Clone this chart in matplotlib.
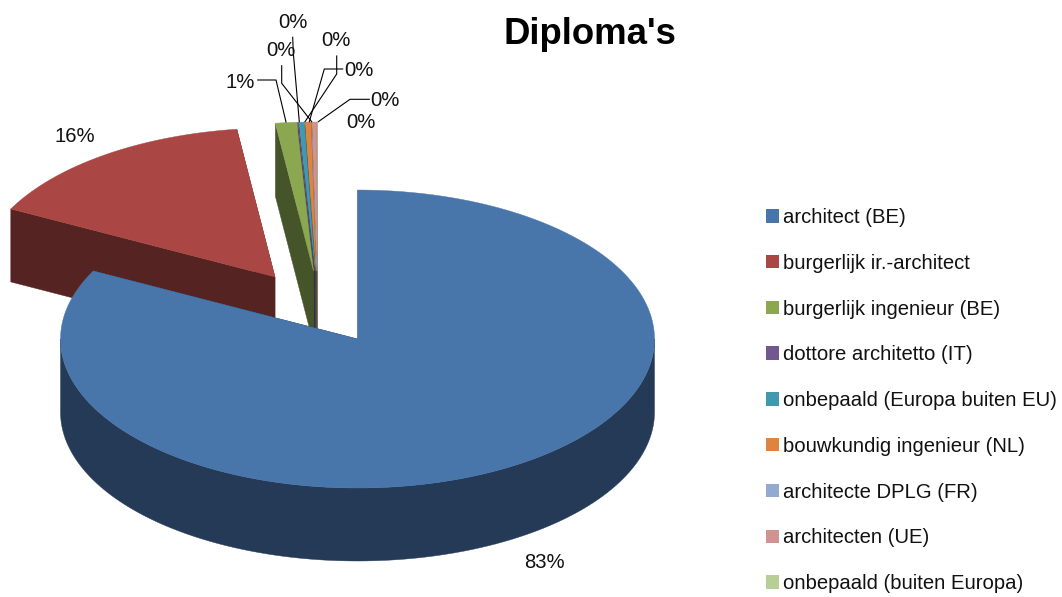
import numpy as np
import matplotlib
matplotlib.use('Agg')
import matplotlib.pyplot as plt
from matplotlib.patches import Polygon, Patch

plt.rcParams['font.family'] = ['Liberation Sans', 'DejaVu Sans']

# data
categories = ['architect (BE)', 'burgerlijk ir.-architect', 'burgerlijk ingenieur (BE)',
              'dottore architetto (IT)', 'onbepaald (Europa buiten EU)', 'bouwkundig ingenieur (NL)',
              'architecte DPLG (FR)', 'architecten (UE)', 'onbepaald (buiten Europa)']
shares = [82.55, 15.40, 1.15, 0.03, 0.29, 0.31, 0.01, 0.25, 0.01]
pct_labels = ['83%', '16%', '1%', '0%', '0%', '0%', '0%', '0%', '0%']
colors = ['#4875AA', '#AA4744', '#8BA850', '#72588F', '#4198AF', '#DE843F', '#94A9CF', '#D19392', '#B9CD96']
dark_colors = ['#243A56', '#552321', '#46542A', '#392C48', '#214C58', '#70421F', '#4A5468', '#684949', '#5C664B']

# layout, in pixels of the 1062x597 picture
RX, RY, DEPTH = 297, 149, 73
apex_x = [357.5, 275, 313.5, 314.5, 315.2, 316.1, 316.5, 317, 317]
apex_y = [339, 277, 271, 271, 271, 271, 271, 271, 271]
label_x = [544, 75, 240, 361, 385, 359, 336, 281, 293]
label_y = [562, 136, 82, 123, 101, 70, 41, 50, 23]
leaders = [
    [(257.7, 80), (276, 80), (286, 122)],
    [(281.7, 65.7), (281.7, 83.3), (311.7, 121.7)],
    [(292.7, 37.3), (293.3, 53), (299.3, 121.7)],
    [(336.7, 56), (336.7, 74), (305, 121.7)],
    [(342.7, 69), (324.3, 69), (309.3, 121.7)],
    [(369.3, 99.3), (350, 99.3), (318.3, 121.7)],
]

fig = plt.figure(figsize=(10.62, 5.97), dpi=100)
ax = fig.add_axes([0, 0, 1, 1])
ax.set_xlim(0, 1062)
ax.set_ylim(597, 0)
ax.axis('off')


def arc(cx, cy, a0, a1):
    # angle in degrees, clockwise from 12 o'clock
    t = np.radians(np.linspace(a0, a1, 200))
    return np.column_stack([cx + RX * np.sin(t), cy - RY * np.cos(t)])


ends = np.cumsum(shares) * 3.6
starts = np.concatenate([[0], ends[:-1]])

# back to front: last slice first, the big blue one on top
for i in range(len(shares) - 1, -1, -1):
    cx, cy = apex_x[i], apex_y[i]
    top = arc(cx, cy, starts[i], ends[i])
    for p in (top[0], top[-1]):
        wall = [p, p + [0, DEPTH], [cx, cy + DEPTH], [cx, cy]]
        ax.add_patch(Polygon(wall, fc=dark_colors[i], ec=dark_colors[i], lw=0.3))
    a0, a1 = max(starts[i], 90), min(ends[i], 270)
    if a1 > a0:
        rim = arc(cx, cy, a0, a1)
        ax.add_patch(Polygon(np.vstack([rim, rim[::-1] + [0, DEPTH]]), fc=dark_colors[i], ec=dark_colors[i], lw=0.3))
    ax.add_patch(Polygon(np.vstack([[cx, cy], top]), fc=colors[i], ec=colors[i], lw=0.3))

for line in leaders:
    xy = np.array(line)
    ax.plot(xy[:, 0], xy[:, 1], color='black', lw=0.8)

for x, y, s in zip(label_x, label_y, pct_labels):
    ax.text(x, y, s, ha='center', va='center', fontsize=14.6, color='#111111')

ax.text(589.5, 34, "Diploma's", ha='center', va='center', fontsize=26.3, fontweight='bold', color='black')

handles = [Patch(fc=c, ec='none', label=n) for c, n in zip(colors, categories)]
ax.legend(handles=handles, loc='upper left', bbox_to_anchor=(766 / 1062, 1 - 208 / 597), frameon=False,
          fontsize=14.6, labelspacing=1.32, handlelength=0.64, handleheight=0.64, handletextpad=0.2,
          borderpad=0, borderaxespad=0, labelcolor='#111111')

fig.savefig('out.png', dpi=100, facecolor='white')
